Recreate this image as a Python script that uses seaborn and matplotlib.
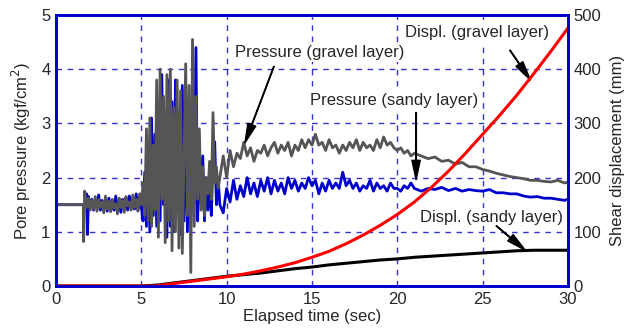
import numpy as np
import matplotlib
matplotlib.use("Agg")
import matplotlib.pyplot as plt
import seaborn as sns

sns.set_style("white")
plt.rcParams['font.family'] = ['Liberation Sans', 'DejaVu Sans']

# ------------------------------------------------------------
# Pore pressure, gravel layer (kgf/cm2)
# ------------------------------------------------------------
t_gravel = [0.0, 1.6, 1.62, 1.68, 1.8, 1.9, 2.0, 2.1, 2.2, 2.3, 2.4, 2.5, 2.6, 2.7, 2.8, 2.9,
            3.0, 3.1, 3.2, 3.3, 3.4, 3.5, 3.6, 3.7, 3.8, 3.9, 4.0, 4.1, 4.2, 4.3, 4.4, 4.5,
            4.6, 4.7, 4.8, 4.9, 5.0,
            5.1, 5.2, 5.3, 5.4, 5.5, 5.6, 5.7, 5.8, 5.9, 6.0, 6.1, 6.2, 6.3, 6.4, 6.5, 6.6,
            6.7, 6.8, 6.9, 7.0, 7.1, 7.2, 7.3, 7.4, 7.5, 7.6, 7.7, 7.8, 7.9, 8.0, 8.1, 8.2,
            8.3, 8.4, 8.5, 8.6, 8.7, 8.8, 8.9, 9.0, 9.1, 9.2, 9.3, 9.4, 9.5,
            9.6, 9.8, 10.0, 10.2, 10.4, 10.6, 10.8, 11.0, 11.2, 11.4, 11.6, 11.8, 12.0, 12.2,
            12.4, 12.6, 12.8, 13.0, 13.2, 13.4, 13.6, 13.8, 14.0, 14.2, 14.4, 14.6, 14.8,
            15.0, 15.2, 15.4, 15.6, 15.8, 16.0, 16.2, 16.4, 16.6, 16.8, 17.0, 17.2, 17.4,
            17.6, 17.8, 18.0, 18.2, 18.4, 18.6, 18.8, 19.0, 19.2, 19.4, 19.6, 19.8, 20.0,
            20.2, 20.4, 20.6, 20.8, 21.0, 21.4, 21.8, 22.2, 22.6, 23.0, 23.4, 23.8, 24.2,
            24.6, 25.0, 25.4, 25.8, 26.2, 26.6, 27.0, 27.4, 27.8, 28.2, 28.6, 29.0, 29.4,
            29.8, 30.0]
p_gravel = [1.5, 1.5, 0.82, 1.75, 1.45, 1.62, 1.4, 1.58, 1.42, 1.65, 1.38, 1.6, 1.45, 1.55, 1.35, 1.66,
            1.42, 1.56, 1.37, 1.6, 1.44, 1.52, 1.33, 1.62, 1.45, 1.58, 1.36, 1.65, 1.48, 1.55, 1.4, 1.68,
            1.45, 1.6, 1.38, 1.7, 1.5,
            1.9, 1.3, 2.9, 1.2, 3.1, 1.1, 2.6, 1.4, 3.8, 0.9, 4.0, 1.6, 3.5, 0.8, 3.9, 1.2,
            4.0, 0.65, 3.3, 1.0, 3.8, 0.7, 3.6, 0.6, 2.4, 4.1, 1.3, 3.7, 0.25, 4.55, 1.1, 3.5,
            1.6, 2.9, 1.4, 2.2, 1.3, 2.0, 1.7, 2.3, 1.6, 3.2, 1.9, 2.2, 1.8,
            2.0, 2.4, 2.0, 2.5, 2.2, 2.45, 2.35, 2.65, 2.4, 2.55, 2.3, 2.5, 2.45, 2.6,
            2.4, 2.55, 2.65, 2.45, 2.6, 2.5, 2.65, 2.4, 2.6, 2.5, 2.7, 2.55, 2.7,
            2.6, 2.8, 2.6, 2.65, 2.5, 2.7, 2.55, 2.6, 2.45, 2.6, 2.5, 2.65, 2.55,
            2.7, 2.5, 2.65, 2.55, 2.6, 2.5, 2.7, 2.55, 2.75, 2.6, 2.65, 2.55, 2.5,
            2.55, 2.45, 2.5, 2.4, 2.45, 2.4, 2.35, 2.38, 2.3, 2.32, 2.25, 2.28, 2.2,
            2.2, 2.15, 2.12, 2.08, 2.05, 2.02, 2.0, 1.98, 1.95, 1.95, 1.93, 1.92, 1.95,
            1.9, 1.92]

# ------------------------------------------------------------
# Pore pressure, sandy layer (kgf/cm2)
# ------------------------------------------------------------
t_sandy = [0.0, 1.75, 1.8, 1.85, 1.9, 2.0, 2.1, 2.2, 2.3, 2.4, 2.5, 2.6, 2.7, 2.8, 2.9,
           3.0, 3.1, 3.2, 3.3, 3.4, 3.5, 3.6, 3.7, 3.8, 3.9, 4.0, 4.1, 4.2, 4.3, 4.4, 4.5,
           4.6, 4.7, 4.8, 4.9, 5.0,
           5.1, 5.2, 5.3, 5.4, 5.5, 5.6, 5.7, 5.8, 5.9, 6.0, 6.1, 6.2, 6.3, 6.4, 6.5, 6.6,
           6.7, 6.8, 6.9, 7.0, 7.1, 7.2, 7.3, 7.4, 7.5, 7.6, 7.7, 7.8, 7.9, 8.0, 8.1, 8.2,
           8.3, 8.4, 8.5, 8.6, 8.7, 8.8, 8.9, 9.0, 9.1, 9.2, 9.3, 9.4, 9.5,
           9.6, 9.8, 10.0, 10.2, 10.4, 10.6, 10.8, 11.0, 11.2, 11.4, 11.6, 11.8, 12.0, 12.2,
           12.4, 12.6, 12.8, 13.0, 13.2, 13.4, 13.6, 13.8, 14.0, 14.2, 14.4, 14.6, 14.8,
           15.0, 15.2, 15.4, 15.6, 15.8, 16.0, 16.2, 16.4, 16.6, 16.8, 17.0, 17.2, 17.4,
           17.6, 17.8, 18.0, 18.2, 18.4, 18.6, 18.8, 19.0, 19.2, 19.4, 19.6, 19.8, 20.0,
           20.2, 20.4, 20.6, 20.8, 21.0, 21.4, 21.8, 22.2, 22.6, 23.0, 23.4, 23.8, 24.2,
           24.6, 25.0, 25.4, 25.8, 26.2, 26.6, 27.0, 27.4, 27.8, 28.2, 28.6, 29.0, 29.4,
           29.8, 30.0]
p_sandy = [1.5, 1.5, 1.7, 0.95, 1.65, 1.45, 1.6, 1.4, 1.55, 1.45, 1.68, 1.4, 1.58, 1.42, 1.6,
           1.38, 1.62, 1.45, 1.55, 1.4, 1.66, 1.42, 1.57, 1.36, 1.6, 1.48, 1.62, 1.4, 1.66, 1.45, 1.58,
           1.42, 1.7, 1.4, 1.6, 1.45,
           1.2, 2.1, 1.1, 2.6, 1.0, 3.1, 1.3, 2.8, 1.1, 3.4, 1.2, 3.9, 1.5, 3.0, 0.9, 3.8,
           1.1, 3.4, 1.0, 3.8, 1.4, 3.2, 0.95, 3.7, 1.2, 3.3, 1.0, 2.5, 1.3, 3.6, 1.5, 4.4,
           1.2, 2.6, 1.5, 2.4, 1.2, 2.0, 1.4, 1.9, 1.3, 2.3, 2.66, 1.5, 2.0,
           1.5, 1.35, 1.8, 1.55, 1.95, 1.6, 1.85, 1.65, 2.0, 1.7, 1.9, 1.65, 1.95, 1.75,
           2.0, 1.7, 1.95, 1.75, 1.9, 1.7, 2.0, 1.8, 1.95, 1.75, 1.9, 1.8, 2.0,
           1.85, 1.95, 1.7, 1.9, 1.75, 1.95, 1.8, 1.9, 1.8, 2.1, 1.85, 1.95, 1.8,
           1.9, 1.75, 1.85, 1.8, 1.95, 1.75, 1.9, 1.8, 1.85, 1.75, 1.9, 1.8, 1.8,
           1.75, 1.85, 1.8, 1.9, 1.8, 1.75, 1.8, 1.78, 1.82, 1.76, 1.8, 1.75, 1.78,
           1.76, 1.75, 1.78, 1.72, 1.72, 1.7, 1.7, 1.66, 1.64, 1.65, 1.62, 1.62, 1.6,
           1.58, 1.6]

# ------------------------------------------------------------
# Shear displacement (mm)
# ------------------------------------------------------------
t_dgravel = [0.0, 5.8, 7, 8, 9, 10, 11, 12, 13, 14, 15, 16, 17, 18, 19, 20, 21, 22, 23,
             24, 25, 26, 27, 28, 29, 30]
d_gravel = [0, 0, 5, 9, 13, 17, 22, 28, 35, 43, 53, 64, 78, 94, 112, 132, 155, 182, 212,
            245, 280, 315, 352, 392, 433, 476]
t_dsandy = [0.0, 5.0, 6, 7, 8, 9, 10, 11, 12, 13, 14, 15, 16, 17, 18, 19, 20, 21, 22, 23,
            24, 25, 26, 27, 28, 29, 30]
d_sandy = [0, 0, 2, 6, 10, 14, 18, 21, 24, 28, 32, 35, 39, 42, 45, 48, 50, 53, 55, 57,
           59, 61, 63, 65, 66, 66, 66]

BLUE = "#0000cc"
FS = 12

fig = plt.figure(figsize=(6.32, 3.33), dpi=100)
ax = fig.add_axes([0.0886, 0.1411, 0.8101, 0.8139])
ax2 = ax.twinx()

sns.lineplot(x=t_sandy, y=p_sandy, ax=ax, color=BLUE, lw=2, sort=False)
sns.lineplot(x=t_gravel, y=p_gravel, ax=ax, color="#555555", lw=2, sort=False)
sns.lineplot(x=t_dsandy, y=d_sandy, ax=ax2, color="black", lw=2.2, sort=False)
sns.lineplot(x=t_dgravel, y=d_gravel, ax=ax2, color="#ff0000", lw=2.2, sort=False)

ax.set_xlim(0, 30)
ax.set_ylim(0, 5)
ax2.set_ylim(0, 500)
ax.set_xticks(range(0, 31, 5))
ax.set_yticks(range(0, 6))
ax2.set_yticks(range(0, 501, 100))

ax.grid(True, color=BLUE, linestyle=(0, (4, 4)), lw=1, alpha=0.8)
for a in (ax, ax2):
    for s in a.spines.values():
        s.set_color(BLUE)
        s.set_linewidth(2)
    a.tick_params(labelsize=FS, length=0, pad=4)

ax.set_xlabel("Elapsed time (sec)", fontsize=FS, labelpad=2)
ax.set_ylabel("Pore pressure (kgf/cm$^2$)", fontsize=FS, labelpad=6)
ax2.set_ylabel("Shear displacement (mm)", fontsize=FS, labelpad=6)

# labels (white box hides the grid behind them) and their arrows
box = dict(facecolor="white", edgecolor="none", pad=1)
arrow = dict(facecolor="black", edgecolor="black", width=0.4, headwidth=6, headlength=14, shrink=0)
ax.text(10.49, 4.30, "Pressure (gravel layer)", fontsize=FS, va="center", ha="left", bbox=box)
ax.annotate("", xy=(11.07, 2.64), xytext=(12.77, 4.05), arrowprops=arrow)
ax.text(14.88, 3.43, "Pressure (sandy layer)", fontsize=FS, va="center", ha="left", bbox=box)
ax.annotate("", xy=(21.1, 1.96), xytext=(21.1, 3.2), arrowprops=arrow)
ax.text(20.45, 4.67, "Displ. (gravel layer)", fontsize=FS, va="center", ha="left", bbox=box)
ax.annotate("", xy=(27.8, 3.8), xytext=(26.6, 4.35), arrowprops=arrow)
ax.text(21.32, 1.27, "Displ. (sandy layer)", fontsize=FS, va="center", ha="left", bbox=box)
ax.annotate("", xy=(27.5, 0.66), xytext=(25.8, 1.11), arrowprops=arrow)

fig.savefig("out.png", dpi=100)
